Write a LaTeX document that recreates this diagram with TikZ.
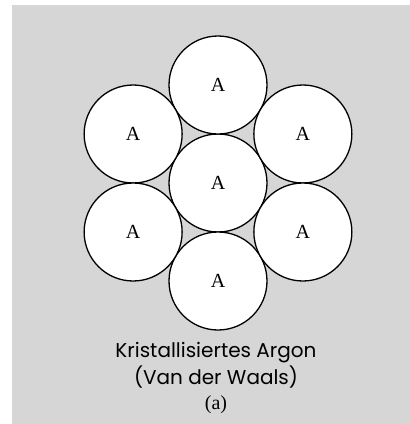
\documentclass[tikz,border=0pt]{standalone}
\usepackage{fontspec}
\setmainfont{Liberation Serif}
\newfontfamily\capfont{Poppins}
\usetikzlibrary{positioning, calc}

\definecolor{paper}{RGB}{214,214,214}

\begin{document}
\begin{tikzpicture}[
    x=1pt, y=1pt,
    atom/.style={circle, draw, minimum size=98pt, inner sep=0pt, outer sep=0pt, fill=white, line width=1.3pt, font=\fontsize{20}{22}\selectfont},
    caption/.style={anchor=base, font=\capfont\fontsize{20}{22}\selectfont},
    label/.style={anchor=base, font=\fontsize{20}{22}\selectfont}
]

% Background
\useasboundingbox (0,0) rectangle (410,-424);
\fill[paper] (12,-5) rectangle (410,-424);

% Atoms
\node[atom] (center) at (218,-183) {A};
\node[atom, above=0pt of center] (top) {A};
\node[atom, below=0pt of center] (bottom) {A};
\node[atom] (upleft) at ($(center)+(150:98)$) {A};
\node[atom] (lowleft) at ($(center)+(210:98)$) {A};
\node[atom] (upright) at ($(center)+(30:98)$) {A};
\node[atom] (lowright) at ($(center)+(-30:98)$) {A};

% Caption
\node[caption] (title) at (216,-357) {Kristallisiertes Argon};
\node[caption] (subtitle) at (216,-384) {(Van der Waals)};
\node[label] (tag) at (216,-409) {(a)};

\end{tikzpicture}
\end{document}
